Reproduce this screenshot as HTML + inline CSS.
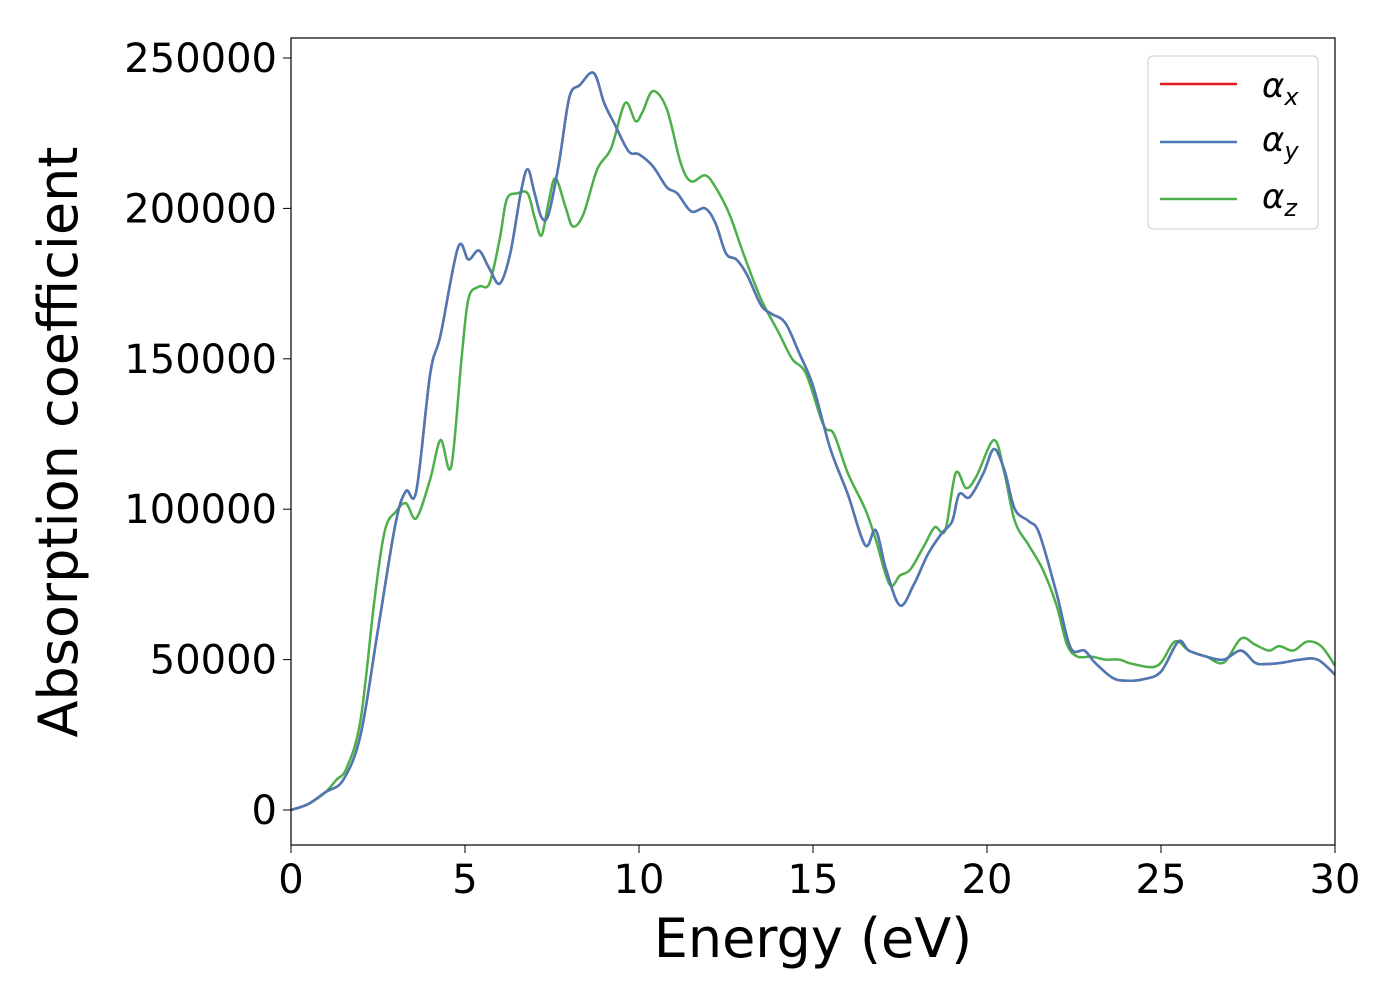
<!DOCTYPE html>
<html><head><meta charset="utf-8"><style>
body{margin:0;background:#fff;}
svg text{font-family:"DejaVu Sans","Liberation Sans",sans-serif;}
</style></head><body>
<svg id="chart" width="1400" height="1000" viewBox="0 0 1400 1000" xmlns="http://www.w3.org/2000/svg">
<rect width="1400" height="1000" fill="#fff"/>
<g id="plot"></g>
<rect x="291" y="38" width="1044" height="807" fill="none" stroke="#000" stroke-width="1.2"/>
<g id="ticks"></g>
<text x="813" y="957" font-size="54" text-anchor="middle">Energy (eV)</text>
<text transform="translate(77,442) rotate(-90)" font-size="54" text-anchor="middle">Absorption coefficient</text>
<g>
<rect x="1148" y="56" width="170" height="173" rx="5" fill="#fff" stroke="#ccc" stroke-width="1"/>
<line x1="1160" y1="84" x2="1237" y2="84" stroke="#e41a1c" stroke-width="2.5"/>
<text x="1262" y="97" font-size="34" font-style="italic">α<tspan font-size="24" dy="8">x</tspan></text>
<line x1="1160" y1="142" x2="1237" y2="142" stroke="#4a7ab8" stroke-width="2.5"/>
<text x="1262" y="151" font-size="34" font-style="italic">α<tspan font-size="24" dy="8">y</tspan></text>
<line x1="1160" y1="199" x2="1237" y2="199" stroke="#4daf4a" stroke-width="2.5"/>
<text x="1262" y="208" font-size="34" font-style="italic">α<tspan font-size="24" dy="8">z</tspan></text>
</g>
</svg>
<script>
const xTicks=[0,5,10,15,20,25,30];
const yTicks=[0,50000,100000,150000,200000,250000];
const energyXY=[0,0.5,1,1.5,2,2.5,3,3.3,3.6,4,4.3,4.8,5.1,5.4,5.7,6,6.3,6.6,6.8,7,7.2,7.4,7.7,8,8.3,8.7,9,9.3,9.7,10,10.4,10.8,11.1,11.5,11.9,12.2,12.5,12.8,13.1,13.5,13.8,14.2,14.6,15,15.5,16,16.5,16.8,17.1,17.5,17.9,18.3,18.7,19,19.2,19.5,19.9,20.2,20.5,20.8,21.2,21.5,22,22.4,22.8,23.1,23.6,24,24.5,25,25.5,25.8,26.3,26.8,27.3,27.7,28,28.5,29,29.5,30];
const alphaX=[0,2000,6000,10000,25000,60000,95000,106000,106000,145000,158000,187000,183000,186000,180000,175000,185000,205000,213000,205000,197000,198000,215000,237000,241000,245000,235000,228000,219000,218000,214000,207000,205000,199000,200000,195000,185000,183000,178000,168000,165000,162000,152000,141000,120000,105000,88000,93000,80000,68000,75000,85000,92000,96000,105000,104000,112000,120000,113000,100000,96000,92000,72000,54000,53000,49000,44000,43000,43500,46000,56000,53000,51000,50000,53000,49000,48500,49000,50000,50000,45000];
const alphaY=alphaX.slice();
const energyZ=[0,0.5,1,1.3,1.6,2,2.4,2.7,3,3.3,3.6,4,4.3,4.6,4.9,5.1,5.4,5.7,6,6.2,6.5,6.8,7,7.2,7.4,7.6,7.9,8.1,8.4,8.8,9.2,9.6,9.9,10.1,10.4,10.8,11.2,11.5,11.9,12.2,12.6,13,13.5,14,14.4,14.8,15.3,15.6,16,16.5,16.8,17.2,17.5,17.8,18.2,18.5,18.8,19.1,19.4,19.7,20.2,20.5,20.8,21.2,21.6,22,22.3,22.6,23,23.4,23.8,24.2,24.9,25.4,25.8,26.3,26.8,27.3,27.7,28.1,28.4,28.8,29.2,29.6,30];
const alphaZ=[0,2000,6000,10000,14000,30000,70000,93000,99000,102000,97000,110000,123000,114000,150000,170000,174000,175000,190000,203000,205000,205000,197000,191000,202000,210000,200000,194000,198000,213000,220000,235000,229000,232000,239000,233000,215000,209000,211000,207000,198000,185000,170000,159000,150000,145000,128000,125000,112000,100000,90000,75000,78000,80000,88000,94000,93000,112000,107000,111000,123000,112000,96000,88000,80000,68000,55000,51000,51000,50000,50000,48500,48000,56000,53000,51000,49000,57000,55000,53000,54500,53000,56000,54500,48000];
const NS="http://www.w3.org/2000/svg";
const X=v=>291+v*1044/30;
const Y=v=>810-v*752/250000;
function smoothPath(xs,ys){
  const p=xs.map((x,i)=>[X(x),Y(ys[i])]);
  let d="M"+p[0][0]+","+p[0][1];
  for(let i=0;i<p.length-1;i++){
    const p0=p[Math.max(0,i-1)],p1=p[i],p2=p[i+1],p3=p[Math.min(p.length-1,i+2)];
    const c1=[p1[0]+(p2[0]-p0[0])/6,p1[1]+(p2[1]-p0[1])/6];
    const c2=[p2[0]-(p3[0]-p1[0])/6,p2[1]-(p3[1]-p1[1])/6];
    d+=" C"+c1[0]+","+c1[1]+" "+c2[0]+","+c2[1]+" "+p2[0]+","+p2[1];
  }
  return d;
}
const plot=document.getElementById('plot');
const clip=document.createElementNS(NS,'clipPath');clip.id='cp';
const cr=document.createElementNS(NS,'rect');cr.setAttribute('x',291);cr.setAttribute('y',38);cr.setAttribute('width',1044);cr.setAttribute('height',807);
clip.appendChild(cr);plot.appendChild(clip);
function addLine(xs,ys,color,name){
  const el=document.createElementNS(NS,'path');
  el.setAttribute('d',smoothPath(xs,ys));
  el.setAttribute('fill','none');el.setAttribute('stroke',color);el.setAttribute('stroke-width','2.5');
  el.setAttribute('clip-path','url(#cp)');
  
  
  plot.appendChild(el);
}
addLine(energyZ,alphaZ,'#4daf4a','series-alpha-z');
addLine(energyXY,alphaX,'#e41a1c','series-alpha-x');
addLine(energyXY,alphaY,'#4a7ab8','series-alpha-y');
const tg=document.getElementById('ticks');
xTicks.forEach(t=>{
  const l=document.createElementNS(NS,'line');
  l.setAttribute('x1',X(t));l.setAttribute('x2',X(t));l.setAttribute('y1',845);l.setAttribute('y2',853);l.setAttribute('stroke','#000');
  
  
  tg.appendChild(l);
  const tx=document.createElementNS(NS,'text');
  tx.setAttribute('x',X(t));tx.setAttribute('y',893);tx.setAttribute('font-size','40');tx.setAttribute('text-anchor','middle');
  tx.textContent=t;
  
  
  tg.appendChild(tx);
});
yTicks.forEach(t=>{
  const l=document.createElementNS(NS,'line');
  l.setAttribute('x1',283);l.setAttribute('x2',291);l.setAttribute('y1',Y(t));l.setAttribute('y2',Y(t));l.setAttribute('stroke','#000');
  
  
  tg.appendChild(l);
  const tx=document.createElementNS(NS,'text');
  tx.setAttribute('x',277);tx.setAttribute('y',Y(t)+14);tx.setAttribute('font-size','40');tx.setAttribute('text-anchor','end');
  tx.textContent=t;
  
  
  tg.appendChild(tx);
});
</script>
</body></html>
